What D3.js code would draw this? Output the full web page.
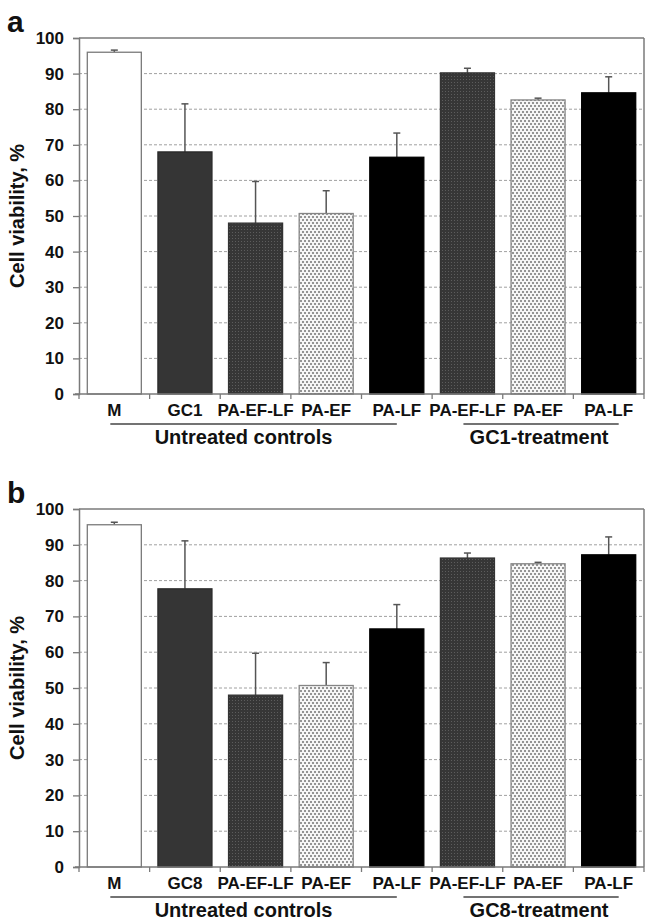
<!DOCTYPE html>
<html><head><meta charset="utf-8">
<script src="https://cdn.jsdelivr.net/npm/d3@7"></script>
<style>
html,body{margin:0;padding:0;background:#fff;}
svg text{font-family:"Liberation Sans",Arial,sans-serif;font-weight:bold;fill:#111;}
</style></head>
<body>
<svg id="chart" width="646" height="920"></svg>
<script>
// ---- data ----
const categories = ["M","GC1","PA-EF-LF","PA-EF","PA-LF","PA-EF-LF","PA-EF","PA-LF"];
const categoriesB = ["M","GC8","PA-EF-LF","PA-EF","PA-LF","PA-EF-LF","PA-EF","PA-LF"];
const fillKinds = ["white","dark","darkdots","lightdots","black","darkdots","lightdots","black"];
const valuesA = [96.0, 68.0, 48.0, 50.7, 66.5, 90.2, 82.6, 84.6];
const errorsA = [0.6, 13.5, 11.7, 6.4, 6.8, 1.3, 0.5, 4.5];
const valuesB = [95.6, 77.7, 48.0, 50.7, 66.5, 86.3, 84.7, 87.2];
const errorsB = [0.7, 13.4, 11.7, 6.4, 6.8, 1.4, 0.4, 5.0];
const yTicks = [0,10,20,30,40,50,60,70,80,90,100];
const groupsA = [{label:"Untreated controls", from:0, to:4},{label:"GC1-treatment", from:5, to:7}];
const groupsB = [{label:"Untreated controls", from:0, to:4},{label:"GC8-treatment", from:5, to:7}];
const yTitle = "Cell viability, %";

const svg = d3.select("#chart");
const defs = svg.append("defs");
// dark dotted pattern
const p1 = defs.append("pattern").attr("id","darkdots").attr("patternUnits","userSpaceOnUse").attr("width",3).attr("height",3);
p1.append("rect").attr("width",3).attr("height",3).attr("fill","#363636");
p1.append("rect").attr("x",1).attr("y",1).attr("width",1).attr("height",1).attr("fill","#5c5c5c");
// light dotted pattern
const p2 = defs.append("pattern").attr("id","lightdots").attr("patternUnits","userSpaceOnUse").attr("width",4).attr("height",6);
p2.append("rect").attr("width",4).attr("height",6).attr("fill","#f6f6f6");
p2.append("rect").attr("x",0).attr("y",0).attr("width",2).attr("height",2).attr("fill","#949494");
p2.append("rect").attr("x",2).attr("y",3).attr("width",2).attr("height",2).attr("fill","#949494");

const fillOf = k => ({white:"#ffffff", dark:"#353535", darkdots:"url(#darkdots)", lightdots:"url(#lightdots)", black:"#000000"})[k];
const strokeOf = k => ({white:"#7a7a7a", dark:"#2a2a2a", darkdots:"#333", lightdots:"#858585", black:"#000"})[k];

function drawPanel(cfg){
  const {top, bottom, left, right, letter, cats, vals, errs, groups} = cfg;
  const g = svg.append("g");
  const idx = d3.range(cats.length);
  const x = d3.scaleBand().domain(idx).range([left, right]).paddingInner(0.235).paddingOuter(0.1175);
  const y = d3.scaleLinear().domain([0,100]).range([bottom, top]);

  // gridlines
  g.append("g").selectAll("line").data(yTicks.filter(t=>t>0 && t<100)).join("line")
    .attr("x1",left).attr("x2",right).attr("y1",d=>y(d)).attr("y2",d=>y(d))
    .attr("stroke","#a0a0a0").attr("stroke-width",1).attr("stroke-dasharray","3,2");

  // frame top/right
  g.append("line").attr("x1",left).attr("x2",right).attr("y1",y(100)).attr("y2",y(100)).attr("stroke","#7a7a7a").attr("stroke-width",1.5);
  g.append("line").attr("x1",right).attr("x2",right).attr("y1",y(100)).attr("y2",y(0)).attr("stroke","#7a7a7a").attr("stroke-width",1.5);

  // error bars
  const eb = g.append("g");
  eb.selectAll("line.v").data(idx).join("line").attr("class","v")
    .attr("x1",i=>x(i)+x.bandwidth()/2).attr("x2",i=>x(i)+x.bandwidth()/2)
    .attr("y1",i=>y(vals[i])).attr("y2",i=>y(vals[i]+errs[i]))
    .attr("stroke","#555").attr("stroke-width",1.5);
  eb.selectAll("line.c").data(idx).join("line").attr("class","c")
    .attr("x1",i=>x(i)+x.bandwidth()/2-3.5).attr("x2",i=>x(i)+x.bandwidth()/2+3.5)
    .attr("y1",i=>y(vals[i]+errs[i])).attr("y2",i=>y(vals[i]+errs[i]))
    .attr("stroke","#555").attr("stroke-width",1.5);

  // bars
  g.append("g").selectAll("rect").data(idx).join("rect")
    .attr("x",i=>x(i)).attr("width",x.bandwidth())
    .attr("y",i=>y(vals[i])).attr("height",i=>y(0)-y(vals[i]))
    .attr("fill",i=>fillOf(fillKinds[i])).attr("stroke",i=>strokeOf(fillKinds[i])).attr("stroke-width",1.3);

  // y axis
  const ya = g.append("g").attr("transform",`translate(${left},0)`)
    .call(d3.axisLeft(y).tickValues(yTicks).tickSize(6).tickPadding(9).tickFormat(d3.format("d")));
  ya.select(".domain").attr("stroke","#7a7a7a").attr("stroke-width",1.5);
  ya.selectAll(".tick line").attr("stroke","#7a7a7a").attr("stroke-width",1.3);
  ya.selectAll(".tick text").style("font-size","17px").style("font-family","'Liberation Sans',Arial,sans-serif").style("font-weight","bold").attr("fill","#111");

  // x axis
  const xb = d3.scaleLinear().domain([0,cats.length]).range([left,right]);
  g.append("line").attr("x1",left-4).attr("x2",right).attr("y1",y(0)).attr("y2",y(0)).attr("stroke","#7a7a7a").attr("stroke-width",1.5);
  g.append("g").selectAll("line").data(d3.range(cats.length+1)).join("line")
    .attr("x1",d=>xb(d)).attr("x2",d=>xb(d)).attr("y1",y(0)).attr("y2",y(0)+5)
    .attr("stroke","#7a7a7a").attr("stroke-width",1.3);
  g.append("g").selectAll("text").data(idx).join("text")
    .attr("x",i=>x(i)+x.bandwidth()/2).attr("y",y(0)+22).attr("text-anchor","middle")
    .style("font-size","17px").text(i=>cats[i]);

  // group lines and labels
  groups.forEach((gr,k)=>{
    const x1 = x(gr.from)+x.bandwidth()/2-4;
    const x2 = x(gr.to)+x.bandwidth()/2 + (k===0?0:10);
    g.append("line").attr("x1",x1).attr("x2",x2).attr("y1",y(0)+30).attr("y2",y(0)+30).attr("stroke","#444").attr("stroke-width",1.5);
    g.append("text").attr("x",(x1+x2)/2 - (k===0?10:2)).attr("y",y(0)+50).attr("text-anchor","middle")
      .style("font-size","20px").text(gr.label);
  });

  // y title
  g.append("text").attr("transform",`translate(24,${(top+bottom)/2}) rotate(-90)`).attr("text-anchor","middle")
    .style("font-size","20px").text(yTitle);
  // panel letter
  g.append("text").attr("x",7).attr("y",top-6).style("font-size","30px").text(letter);
}

drawPanel({top:38, bottom:394, left:79, right:644, letter:"a", cats:categories, vals:valuesA, errs:errorsA, groups:groupsA});
drawPanel({top:509, bottom:867, left:79, right:644, letter:"b", cats:categoriesB, vals:valuesB, errs:errorsB, groups:groupsB});
</script>
</body></html>
